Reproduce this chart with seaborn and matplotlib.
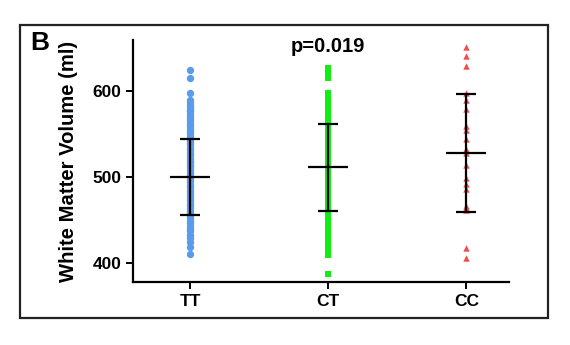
import matplotlib
matplotlib.use("Agg")
import matplotlib.pyplot as plt
import seaborn as sns
import pandas as pd
from matplotlib.patches import Rectangle

categories = ["TT", "CT", "CC"]
colors = ["#5A9BEB", "#11EE11", "#F24A4F"]
markers = ["o", "s", "^"]

tt_values = [624, 615, 597, 589, 587, 584, 581, 578, 576, 573, 570, 567, 565, 562, 559,
             556, 553, 551, 548, 545, 542, 539, 537, 534, 531, 528, 525, 522, 519, 517,
             514, 511, 508, 505, 502, 499, 497, 494, 491, 488, 485, 482, 479, 476, 473,
             470, 467, 464, 461, 458, 455, 452, 449, 446, 443, 440, 437, 433, 429, 424,
             419, 410]
ct_values = [626, 621, 615, 598, 590, 586, 582, 578, 574, 570, 566, 562, 558, 554, 550,
             546, 542, 538, 534, 530, 526, 522, 518, 514, 510, 506, 502, 498, 494, 490,
             486, 482, 478, 474, 470, 466, 462, 458, 454, 450, 446, 442, 438, 433, 426,
             420, 414, 409, 387]
cc_values = [651, 640, 629, 597, 589, 579, 559, 555, 544, 533, 528, 514, 499, 492, 486,
             466, 464, 462, 417, 406]

group_means = [500, 511, 528]
group_sds = [44, 51, 68.5]

p_text = "p=0.019"
panel_label = "B"
y_label = "White Matter Volume (ml)"
y_ticks = [400, 500, 600]

sns.set_style("ticks")
plt.rcParams["font.family"] = ["Liberation Sans", "DejaVu Sans"]
plt.rcParams["font.weight"] = "bold"
plt.rcParams["text.color"] = "black"
plt.rcParams["axes.labelcolor"] = "black"
plt.rcParams["xtick.color"] = "black"
plt.rcParams["ytick.color"] = "black"

fig = plt.figure(figsize=(5.7, 3.45), dpi=100)
ax = fig.add_axes([0.2333, 0.1826, 0.660, 0.7014])

groups = [tt_values, ct_values, cc_values]
sizes = [5.3, 4.3, 4.6]
for cat, vals, col, mk, sz in zip(categories, groups, colors, markers, sizes):
    df = pd.DataFrame({"genotype": [cat] * len(vals), "volume": vals})
    sns.stripplot(data=df, x="genotype", y="volume", order=categories, jitter=False,
                  color=col, marker=mk, size=sz, linewidth=0, ax=ax, zorder=1)

xpos = list(range(len(categories)))
ax.errorbar(xpos, group_means, yerr=group_sds, fmt="none", ecolor="black",
            elinewidth=1.6, capsize=7.2, capthick=1.6, zorder=5)
ax.hlines(group_means, [x - 0.145 for x in xpos], [x + 0.145 for x in xpos],
          colors="black", linewidth=1.6, zorder=5)

ax.set_xlim(-0.413, 2.31)
ax.set_ylim(378, 659)
ax.set_yticks(y_ticks)
ax.set_xlabel("")
ax.set_ylabel(y_label, fontsize=14.6, fontweight="bold", labelpad=10)
ax.tick_params(axis="both", labelsize=12.5, width=1.4, length=5, color="black",
               labelcolor="black")
for lab in ax.get_xticklabels() + ax.get_yticklabels():
    lab.set_fontweight("bold")
for side in ["top", "right"]:
    ax.spines[side].set_visible(False)
for side in ["left", "bottom"]:
    ax.spines[side].set_linewidth(1.6)
    ax.spines[side].set_color("black")

ax.text(1, 651, p_text, ha="center", va="center", fontsize=14.5, fontweight="bold",
        color="black")
fig.text(30 / 570, 1 - 43 / 345, panel_label, ha="left", va="center",
         fontsize=19, fontweight="bold", color="black")

fig.patches.append(Rectangle((20 / 570, 1 - 318 / 345), 528 / 570, 293 / 345,
                             transform=fig.transFigure, fill=False,
                             edgecolor="#222222", linewidth=1.6))

fig.savefig("out.png", dpi=100)
